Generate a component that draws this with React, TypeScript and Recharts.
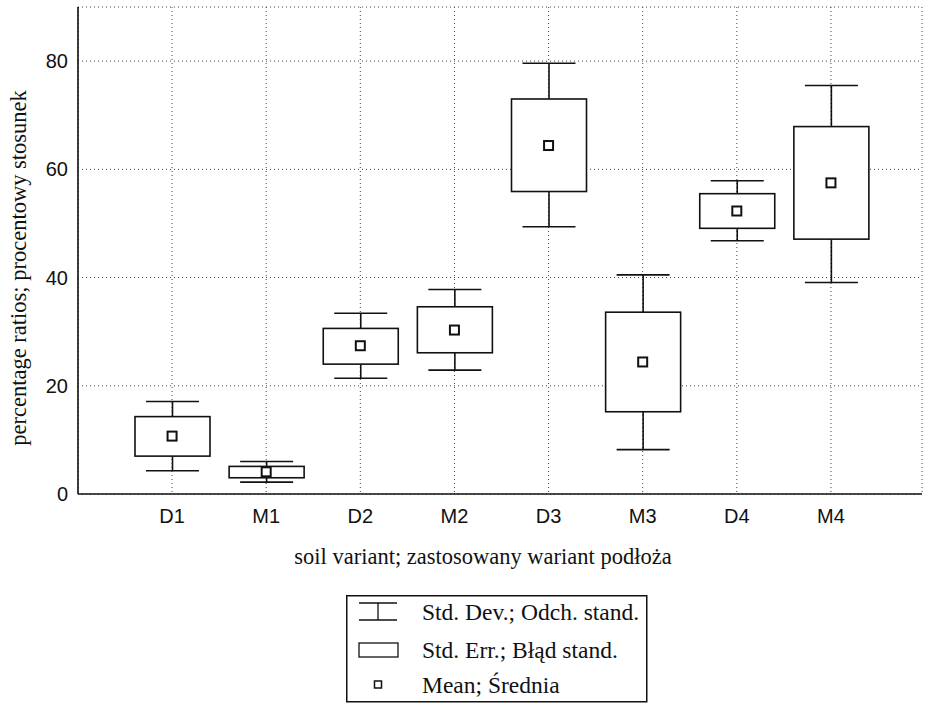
import React from 'react';
import { ComposedChart, Bar, Scatter, XAxis, YAxis, CartesianGrid, Label } from 'recharts';

// soil variants
const categories = ['D1', 'M1', 'D2', 'M2', 'D3', 'M3', 'D4', 'M4'];
// mean values
const means = [10.7, 4.1, 27.4, 30.3, 64.4, 24.4, 52.3, 57.5];
// std. err. box (low / high)
const seLow = [7.0, 3.0, 24.0, 26.1, 55.9, 15.2, 49.1, 47.1];
const seHigh = [14.3, 5.1, 30.6, 34.6, 73.0, 33.6, 55.5, 67.9];
// std. dev. whiskers (low / high)
const sdLow = [4.3, 2.2, 21.4, 22.9, 49.4, 8.2, 46.8, 39.1];
const sdHigh = [17.1, 6.0, 33.4, 37.8, 79.6, 40.5, 57.9, 75.5];
const yTicks = [0, 20, 40, 60, 80];

const data = categories.map((name, i) => ({
  name,
  mean: means[i],
  base: sdLow[i],
  lowW: seLow[i] - sdLow[i],
  box: seHigh[i] - seLow[i],
  highW: sdHigh[i] - seHigh[i],
}));

const INK = '#111';
const CAP = 53;
const sans = 'Liberation Sans, Arial, sans-serif';
const serif = 'Liberation Serif, Times New Roman, serif';

const LowWhisker = (p: any) => {
  const cx = p.x + p.width / 2;
  const yb = p.y + p.height;
  return (
    <g>
      <line x1={cx} x2={cx} y1={p.y} y2={yb} stroke={INK} strokeWidth={1.6} />
      <line x1={cx - CAP / 2} x2={cx + CAP / 2} y1={yb} y2={yb} stroke={INK} strokeWidth={1.6} />
    </g>
  );
};

const HighWhisker = (p: any) => {
  const cx = p.x + p.width / 2;
  return (
    <g>
      <line x1={cx} x2={cx} y1={p.y} y2={p.y + p.height} stroke={INK} strokeWidth={1.6} />
      <line x1={cx - CAP / 2} x2={cx + CAP / 2} y1={p.y} y2={p.y} stroke={INK} strokeWidth={1.6} />
    </g>
  );
};

const Box = (p: any) => (
  <rect x={p.x} y={p.y} width={p.width} height={p.height} fill="#fff" stroke={INK} strokeWidth={1.6} />
);

const MeanMark = (p: any) => (
  <rect x={p.cx - 4.5} y={p.cy - 4.5} width={9} height={9} fill="#fff" stroke={INK} strokeWidth={2} />
);

const App = () => {
  return (
    <div style={{ position: 'absolute', left: 0, top: 0, width: 928, height: 703, background: '#fff' }}>
      <ComposedChart
        width={928}
        height={703}
        data={data}
        margin={{ top: 7, right: 6, left: 18, bottom: 179 }}
      >
        <CartesianGrid stroke="#444" strokeDasharray="1 3" />
        <XAxis
          dataKey="name"
          height={30}
          padding={{ left: 47, right: 44 }}
          tickSize={0}
          tickMargin={15}
          tick={{ fill: INK, fontSize: 20, fontFamily: sans }}
          axisLine={{ stroke: INK, strokeWidth: 1.6 }}
        >
          <Label
            content={() => (
              <text x={483} y={564} textAnchor="middle" fontFamily={serif} fontSize={22.5} fill={INK}>
                soil variant; zastosowany wariant podłoża
              </text>
            )}
          />
        </XAxis>
        <XAxis
          xAxisId="top"
          dataKey="name"
          orientation="top"
          height={0}
          padding={{ left: 47, right: 44 }}
          tick={false}
          tickLine={false}
          axisLine={{ stroke: INK, strokeWidth: 1.6 }}
        />
        <YAxis
          width={60}
          domain={[0, 90]}
          ticks={yTicks}
          tickSize={0}
          tickMargin={10}
          tick={{ fill: INK, fontSize: 20, fontFamily: sans }}
          axisLine={{ stroke: INK, strokeWidth: 1.6 }}
        >
          <Label
            content={() => (
              <text
                x={26}
                y={268}
                textAnchor="middle"
                transform="rotate(-90 26 268)"
                fontFamily={serif}
                fontSize={22.5}
                fill={INK}
              >
                percentage ratios; procentowy stosunek
              </text>
            )}
          />
        </YAxis>
        <YAxis
          yAxisId="right"
          orientation="right"
          width={0}
          domain={[0, 90]}
          tick={false}
          tickLine={false}
          axisLine={{ stroke: INK, strokeWidth: 1.6 }}
        />
        <Bar dataKey="base" stackId="a" barSize={75} fill="none" isAnimationActive={false} />
        <Bar dataKey="lowW" stackId="a" barSize={75} shape={LowWhisker} isAnimationActive={false} />
        <Bar dataKey="box" stackId="a" barSize={75} shape={Box} isAnimationActive={false} />
        <Bar dataKey="highW" stackId="a" barSize={75} shape={HighWhisker} isAnimationActive={false} />
        <Scatter dataKey="mean" shape={MeanMark} isAnimationActive={false} />
      </ComposedChart>

      <svg
        width={303}
        height={108}
        style={{ position: 'absolute', left: 346, top: 595 }}
      >
        <rect x={0.75} y={0.75} width={300} height={106} fill="#fff" stroke={INK} strokeWidth={1.5} />
        {/* std. dev. icon */}
        <line x1={13} x2={51} y1={8} y2={8} stroke={INK} strokeWidth={1.3} />
        <line x1={13} x2={51} y1={25} y2={25} stroke={INK} strokeWidth={1.3} />
        <line x1={32} x2={32} y1={8} y2={25} stroke={INK} strokeWidth={1.3} />
        <text x={76} y={25} fontFamily={serif} fontSize={23.5} fill={INK}>Std. Dev.; Odch. stand.</text>
        {/* std. err. icon */}
        <rect x={13} y={48} width={39} height={14} fill="#fff" stroke={INK} strokeWidth={1.3} />
        <text x={76} y={63} fontFamily={serif} fontSize={23.5} fill={INK}>Std. Err.; Błąd stand.</text>
        {/* mean icon */}
        <rect x={28.5} y={86} width={7} height={7} fill="#fff" stroke={INK} strokeWidth={1.5} />
        <text x={76} y={98} fontFamily={serif} fontSize={23.5} fill={INK}>Mean; Średnia</text>
      </svg>
    </div>
  );
};

export default App;
